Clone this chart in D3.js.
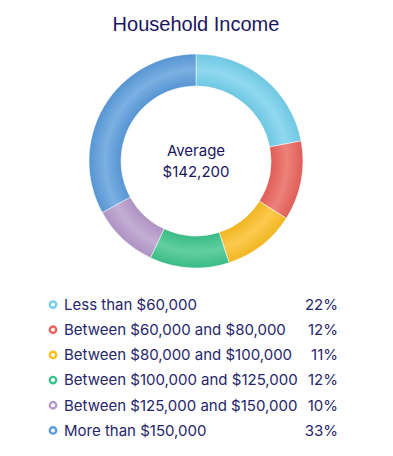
<html>
<head>
<title>Household Income</title>
<script src="https://d3js.org/d3.v7.min.js"></script>
<style>
  body { margin: 0; background: #fff; }
</style>
</head>
<body>
<script>
  // data
  var categories = ["Less than $60,000", "Between $60,000 and $80,000", "Between $80,000 and $100,000",
                    "Between $100,000 and $125,000", "Between $125,000 and $150,000", "More than $150,000"];
  var shares = [22, 12, 11, 12, 10, 33];
  var colors = ["#74d0ec", "#e8625a", "#fbbd22", "#3cc38b", "#b598ca", "#5a9cdb"];
  var average = "$142,200";
  var title = "Household Income";

  var width = 393, height = 456;
  var cx = 196, cy = 161, outerR = 107, innerR = 75;
  var navy = "#1b1660";

  var svg = d3.select("body").append("svg")
      .attr("width", width)
      .attr("height", height);

  svg.append("text")
     .attr("x", cx).attr("y", 31)
     .attr("text-anchor", "middle")
     .attr("font-family", "Liberation Sans, Arial, sans-serif")
     .attr("font-size", 20)
     .attr("fill", navy)
     .text(title);

  var data = categories.map(function(c, i){ return {label: c, value: shares[i], color: colors[i]}; });

  var defs = svg.append("defs");
  data.forEach(function(d, i){
    var g = defs.append("radialGradient")
        .attr("id", "grad" + i)
        .attr("gradientUnits", "userSpaceOnUse")
        .attr("cx", 0).attr("cy", 0).attr("r", outerR);
    var base = d3.color(d.color);
    g.append("stop").attr("offset", innerR / outerR).attr("stop-color", base.darker(0.12));
    g.append("stop").attr("offset", (innerR + outerR) / 2 / outerR).attr("stop-color", d3.interpolateRgb(d.color, "#fff")(0.2));
    g.append("stop").attr("offset", 1).attr("stop-color", base.darker(0.12));
  });

  var pie = d3.pie().sort(null).value(function(d){ return d.value; });
  var arc = d3.arc().innerRadius(innerR).outerRadius(outerR);

  var ring = svg.append("g").attr("transform", "translate(" + cx + "," + cy + ")");
  ring.selectAll("path")
      .data(pie(data))
      .enter()
      .append("path")
      .attr("d", arc)
      .attr("fill", function(d, i){ return "url(#grad" + i + ")"; })
      .attr("stroke", "#fff")
      .attr("stroke-width", 0.5);

  ring.append("text")
      .attr("y", -5)
      .attr("text-anchor", "middle")
      .attr("font-family", "Inter, sans-serif")
      .attr("font-size", 15)
      .attr("fill", navy)
      .text("Average");
  ring.append("text")
      .attr("y", 16)
      .attr("text-anchor", "middle")
      .attr("font-family", "Inter, sans-serif")
      .attr("font-size", 15)
      .attr("fill", navy)
      .text(average);

  // legend
  var y = d3.scaleBand().domain(categories).range([292, 443]);
  var legend = svg.append("g")
      .attr("font-family", "Inter, sans-serif")
      .attr("font-size", 15)
      .attr("fill", "#27266a");

  var rows = legend.selectAll("g.row")
      .data(data)
      .enter()
      .append("g")
      .attr("class", "row")
      .attr("transform", function(d){ return "translate(0," + (y(d.label) + y.bandwidth() / 2) + ")"; });

  rows.append("circle")
      .attr("cx", 53).attr("cy", 0).attr("r", 3.2)
      .attr("fill", "#fff")
      .attr("stroke", function(d){ return d.color; })
      .attr("stroke-width", 2.4);

  rows.append("text")
      .attr("x", 64).attr("dy", "0.36em")
      .text(function(d){ return d.label; });

  rows.append("text")
      .attr("x", 338).attr("dy", "0.36em")
      .attr("text-anchor", "end")
      .text(function(d){ return d.value + "%"; });
</script>
</body>
</html>
